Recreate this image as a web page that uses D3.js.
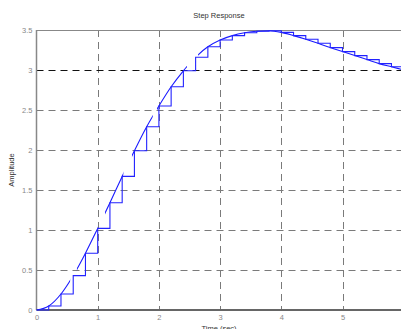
<!DOCTYPE html>
<html>
<head>
<meta charset="utf-8">
<script src="https://cdn.jsdelivr.net/npm/d3@7"></script>
<style>
  html, body { margin: 0; padding: 0; background: #fff; }
  svg { display: block; }
  text { font-family: "Liberation Sans", Arial, sans-serif; }
</style>
</head>
<body>
<svg id="chart" width="401" height="329"></svg>
<script>
// Sampled step response (sample period 0.2 s)
const sampleTimes = [0, 0.2, 0.4, 0.6, 0.8, 1.0, 1.2, 1.4, 1.6, 1.8, 2.0, 2.2, 2.4, 2.6, 2.8, 3.0,
                     3.2, 3.4, 3.6, 3.8, 4.0, 4.2, 4.4, 4.6, 4.8, 5.0, 5.2, 5.4, 5.6, 5.8, 6.0];
const amplitudes = [0, 0.05, 0.2, 0.43, 0.71, 1.02, 1.34, 1.67, 1.99, 2.29, 2.55, 2.79, 2.99, 3.16, 3.29, 3.375,
                    3.43, 3.465, 3.485, 3.49, 3.47, 3.43, 3.385, 3.335, 3.28, 3.23, 3.18, 3.13, 3.08, 3.04, 3.0];
// Visible stretches of the continuous trace (seconds)
const traceSpans = [[0, 0.55], [0.66, 1.0], [1.12, 1.42], [1.56, 1.9], [1.97, 2.46], [2.64, 6]];
// Axis ticks
const xTicks = [0, 1, 2, 3, 4, 5];
const yTicks = [0, 0.5, 1, 1.5, 2, 2.5, 3, 3.5];
const referenceLevel = 3;

const svg = d3.select("#chart");
const x = d3.scaleLinear().domain([0, 6]).range([36.5, 403.7]);
const y = d3.scaleLinear().domain([0, 3.5]).range([310, 30]);

const points = sampleTimes.map((t, i) => [t, amplitudes[i]]);

// grid
const grid = svg.append("g");
grid.selectAll("line.vg").data(xTicks.filter(d => d > 0)).join("line")
  .attr("x1", d => Math.round(x(d)) + 0.5).attr("x2", d => Math.round(x(d)) + 0.5)
  .attr("y1", y(3.5)).attr("y2", y(0))
  .attr("stroke", "#7a7a7a").attr("stroke-width", 1).attr("stroke-dasharray", "7,5");
grid.selectAll("line.hg").data(yTicks.filter(d => d > 0 && d < 3.5)).join("line")
  .attr("x1", x(0)).attr("x2", 401)
  .attr("y1", d => Math.round(y(d)) + 0.5).attr("y2", d => Math.round(y(d)) + 0.5)
  .attr("stroke", d => d === referenceLevel ? "#111" : "#7a7a7a")
  .attr("stroke-width", d => d === referenceLevel ? 1.2 : 1)
  .attr("stroke-dasharray", "7,5");

// frame
svg.append("line").attr("x1", x(0)).attr("x2", 401).attr("y1", y(3.5) + 0.5).attr("y2", y(3.5) + 0.5)
  .attr("stroke", "#888").attr("stroke-width", 1);
svg.append("line").attr("x1", x(0)).attr("x2", x(0)).attr("y1", y(3.5)).attr("y2", y(0))
  .attr("stroke", "#888").attr("stroke-width", 1.5);
svg.append("line").attr("x1", x(0)).attr("x2", 401).attr("y1", y(0)).attr("y2", y(0))
  .attr("stroke", "#666").attr("stroke-width", 2);

// axes labels via d3 axes
const yAxis = svg.append("g").attr("transform", `translate(${x(0) - 2},0)`)
  .call(d3.axisLeft(y).tickValues(yTicks).tickSize(0).tickPadding(2).tickFormat(d3.format("")));
const xAxis = svg.append("g").attr("transform", `translate(0,${y(0) + 3})`)
  .call(d3.axisBottom(x).tickValues(xTicks).tickSize(0).tickPadding(2).tickFormat(d3.format("")));
[yAxis, xAxis].forEach(a => {
  a.select(".domain").remove();
  a.selectAll("text").attr("fill", "#888").attr("font-size", 7.5)
    .attr("font-family", "Liberation Sans, Arial, sans-serif");
});

// continuous response, drawn in its visible stretches
const defs = svg.append("defs");
const curve = d3.line().x(d => x(d[0])).y(d => y(d[1])).curve(d3.curveMonotoneX);
traceSpans.forEach((s, i) => {
  defs.append("clipPath").attr("id", "span" + i).append("rect")
    .attr("x", x(s[0])).attr("width", x(s[1]) - x(s[0]))
    .attr("y", 0).attr("height", 329);
  svg.append("path").datum(points)
    .attr("clip-path", `url(#span${i})`)
    .attr("d", curve).attr("fill", "none")
    .attr("stroke", "#1a1aff").attr("stroke-width", 1.1);
});

// sampled (zero-order hold) response
const stairs = d3.line().x(d => x(d[0])).y(d => y(d[1])).curve(d3.curveStepAfter);
svg.append("path").datum(points.concat([[6.2, amplitudes[amplitudes.length - 1]]]))
  .attr("d", stairs).attr("fill", "none")
  .attr("stroke", "#2222ff").attr("stroke-width", 1.1);

// titles
svg.append("text").attr("x", 219).attr("y", 18).attr("text-anchor", "middle")
  .attr("font-size", 7.5).attr("fill", "#333").text("Step Response");
svg.append("text").attr("transform", `translate(14,170) rotate(-90)`).attr("text-anchor", "middle")
  .attr("font-size", 7.5).attr("fill", "#333").text("Amplitude");
svg.append("text").attr("x", 219).attr("y", 331).attr("text-anchor", "middle")
  .attr("font-size", 7.5).attr("fill", "#333").text("Time (sec)");
</script>
</body>
</html>
